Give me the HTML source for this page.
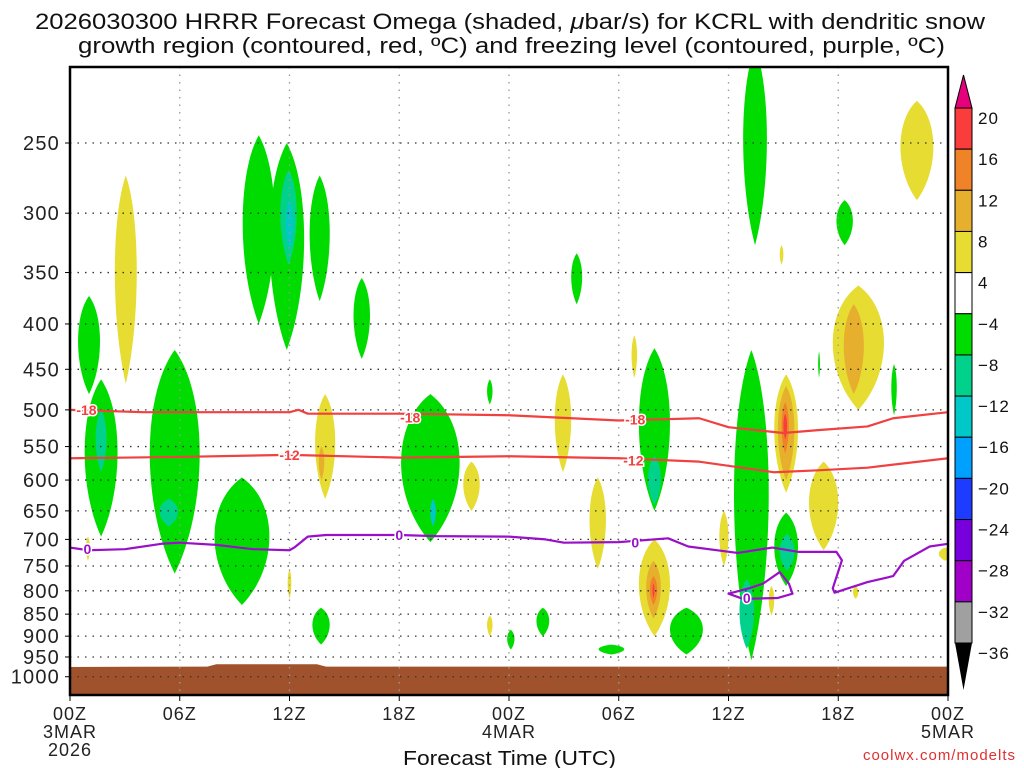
<!DOCTYPE html>
<html><head><meta charset="utf-8"><style>
body{margin:0;background:#fff;width:1024px;height:768px;overflow:hidden;font-family:"Liberation Sans","DejaVu Sans",sans-serif}
svg{display:block}
</style></head><body>
<svg id="chart" width="1024" height="768" viewBox="0 0 1024 768" xmlns="http://www.w3.org/2000/svg">
<text x="35" y="29" textLength="950" lengthAdjust="spacingAndGlyphs" font-size="22" fill="#111" font-family="Liberation Sans, DejaVu Sans, sans-serif">2026030300 HRRR Forecast Omega (shaded, <tspan font-style="italic">μ</tspan>bar/s) for KCRL with dendritic snow</text>
<text x="78" y="53" textLength="867" lengthAdjust="spacingAndGlyphs" font-size="22" fill="#111" font-family="Liberation Sans, DejaVu Sans, sans-serif">growth region (contoured, red, ºC) and freezing level (contoured, purple, ºC)</text>
<g id="plot"></g>
<g id="cbar"></g>
<text x="403" y="765" textLength="213" lengthAdjust="spacingAndGlyphs" font-size="20" fill="#111">Forecast Time (UTC)</text>
<text x="1016" y="760" text-anchor="end" font-size="15" fill="#e03030" letter-spacing="1">coolwx.com/modelts</text>
</svg>
<script>
// ---- data ----
const pressureTicks=[250,300,350,400,450,500,550,600,650,700,750,800,850,900,950,1000];
const timeTicks=[0,6,12,18,24,30,36,42,48];
const timeLabels=["00Z","06Z","12Z","18Z","00Z","06Z","12Z","18Z","00Z"];
const cbLabels=["20","16","12","8","4","−4","−8","−12","−16","−20","−24","−28","−32","−36"];
const cbColors=["#fa3c3c","#f08228","#e6af2d","#e6dc32","#ffffff","#00dc00","#00d28c","#00c8c8","#00a0ff","#1e3cff","#7800dc","#a000c8","#a0a0a0"];
// omega blobs: [hourStart, hourEnd, pTop, pBottom, level]
const blobs=[
[0.44,1.64,372,480,-1],[0.8,2.6,462,695,-1],[1.4,2.0,500,588,-2],
[4.36,7.09,428,765,-1],[4.9,5.9,630,677,-2],[7.9,10.9,596,830,-1],
[9.44,11.2,245,400,-1],[10.9,12.8,250,428,-1],[11.5,12.4,268,343,-2],[11.8,12.2,290,330,-3],
[13.1,14.2,272,377,-1],[15.5,16.4,355,438,-1],[13.25,14.2,836,920,-1],
[18.1,21.3,480,705,-1],[19.7,20.0,630,677,-3],[22.8,23.1,462,493,-1],[23.9,24.3,885,932,-1],
[25.5,26.2,836,900,-1],[27.4,28.0,333,380,-1],[28.9,30.3,920,944,-1],
[31.1,32.8,426,650,-1],[31.6,32.3,564,640,-2],[32.8,34.6,836,944,-1],
[36.3,38.2,428,958,-1],[36.6,37.4,776,930,-2],[36.8,38.1,195,326,-1],
[38.5,39.8,653,790,-1],[38.8,39.6,690,760,-2],[41.9,42.8,290,326,-1],[44.9,45.2,444,507,-1],[40.9,41.0,430,460,-1],
[2.45,3.65,272,467,1],[13.4,14.5,480,630,1],[13.6,13.9,550,600,2],[0.87,1.09,695,740,1],[11.9,12.1,756,817,1],
[21.5,22.4,572,650,1],[26.5,27.4,456,588,1],[28.4,29.3,596,756,1],[30.7,31.0,412,460,1],
[31.1,32.8,700,900,1],[31.5,32.3,740,860,2],[31.7,32.1,770,830,3],
[41.7,44.5,362,500,1],[42.3,43.4,380,480,2],
[38.5,39.8,456,620,1],[38.7,39.6,470,600,2],[38.9,39.3,490,560,3],[39.0,39.2,505,540,4],
[40.4,42.0,572,720,1],[35.5,36.0,650,750,1],[38.2,38.5,790,853,1],[45.4,47.2,224,290,1],
[22.8,23.1,853,900,1],[38.8,39.0,326,343,1],[47.5,48.2,715,740,1],[42.8,43.1,790,817,1],[31.85,31.95,785,815,4]
];
const levelColors={"1":"#e6dc32","2":"#e6af2d","3":"#f08228","4":"#fa3c3c","-1":"#00dc00","-2":"#00d28c","-3":"#00c8c8","-4":"#00a0ff"};
const dgzTimes18=[0,4,8,12,12.5,13,18,24,30,34.4,36,39,40.9,43.6,45,48];
const dgzP18=[500,503,503,503,500,505,505,507,514,511,523,531,527,522,511,503];
const dgzTimes12=[0,6,12,18,24,30,34.4,38.5,40.9,43.6,48];
const dgzP12=[567,565,562,566,564,567,572,588,585,581,567];
const frzTimes=[0,1,3,5,6,8,10,12,12.3,13,14,18,20,24,26,27,30,32.7,33.8,36.5,38.4,39.8,41.9,42.2,41.7,41.8,43.6,45,45.6,47,48];
const frzP=[715,720,718,708,706,710,718,720,714,695,692,692,694,695,700,706,705,698,713,725,715,723,723,739,795,804,782,770,740,713,708];
const loopTimes=[36.0,37.1,37.9,38.8,39.3,39.5,38.7,36.8,36.0];
const loopP=[806,795,785,762,785,806,815,817,806];
const groundTimes=[0,7.5,8,13.5,14,48];
const groundP=[975,974,968,968,974,974];
// ---- axes ----
const X0=70,X1=948,Y0=67,Y1=695;
const xs=h=>X0+h*(X1-X0)/48;
const ys=p=>143+385*Math.log(p/250);
const NS="http://www.w3.org/2000/svg";
function mk(tag,attrs,parent){const e=document.createElementNS(NS,tag);for(const k in attrs)e.setAttribute(k,attrs[k]);parent.appendChild(e);return e;}
const plot=document.getElementById('plot');
const cl=mk('clipPath',{id:'clip'},plot);mk('rect',{x:X0,y:Y0,width:X1-X0,height:Y1-Y0},cl);
const inner=mk('g',{'clip-path':'url(#clip)'},plot);
blobs.forEach((b,i)=>{
  const x1=xs(b[0]),x2=xs(b[1]),yT=ys(b[2]),yB=ys(b[3]);const cx=(x1+x2)/2,hw=(x2-x1)/2/0.75,H=yB-yT;
  const d=`M${cx},${yT} C${cx+hw},${yT+0.2*H} ${cx+hw},${yB-0.3*H} ${cx},${yB} C${cx-hw},${yB-0.3*H} ${cx-hw},${yT+0.2*H} ${cx},${yT}Z`;
  const e=mk('path',{d:d,fill:levelColors[b[4]]},inner);
  
  
});
// ground
let gd=`M${xs(0)},${Y1+2}`;groundTimes.forEach((t,i)=>gd+=` L${xs(t)},${ys(groundP[i])}`);gd+=` L${xs(48)+2},${Y1+2}Z`;
const g=mk('path',{d:gd,fill:'#a0522d'},inner);


// grid
pressureTicks.forEach(p=>{
  const gl=mk('line',{x1:X0,x2:X1,y1:ys(p),y2:ys(p),stroke:'#333','stroke-width':1.3,'stroke-dasharray':'1.5 6'},plot);
  
  
  mk('line',{x1:X0-5,x2:X0,y1:ys(p),y2:ys(p),stroke:'#000'},plot);
  const t=mk('text',{x:X0-10,y:ys(p)+7,'text-anchor':'end','font-size':20,'letter-spacing':1.2,fill:'#222'},plot);t.textContent=p;
  
  
});
timeTicks.forEach((h,i)=>{
  if(h>0&&h<48){const vl=mk('line',{x1:xs(h),x2:xs(h),y1:Y0,y2:Y1,stroke:'#999','stroke-width':1.3,'stroke-dasharray':'1.5 6'},plot);
  
  }
  mk('line',{x1:xs(h),x2:xs(h),y1:Y1,y2:Y1+6,stroke:'#000'},plot);
  const t=mk('text',{x:xs(h),y:720,'text-anchor':'middle','font-size':18,'letter-spacing':1,fill:'#222'},plot);t.textContent=timeLabels[i];
  
  
});
[[0,"3MAR",738],[0,"2026",756],[24,"4MAR",738],[48,"5MAR",738]].forEach(a=>{
  const t=mk('text',{x:xs(a[0]),y:a[2],'text-anchor':'middle','font-size':18,'letter-spacing':1,fill:'#222'},plot);t.textContent=a[1];
  
  
});
// contours
function line(ts,ps,col,name,close){
  let d='';ts.forEach((t,i)=>d+=(i?' L':'M')+xs(t)+','+ys(ps[i]));if(close)d+='Z';
  const e=mk('path',{d:d,fill:'none',stroke:col,'stroke-width':2.2,'stroke-linejoin':'round'},plot);
  
  
}
line(dgzTimes18,dgzP18,'#f04040','contour-minus18');
line(dgzTimes12,dgzP12,'#f04040','contour-minus12');
line(frzTimes,frzP,'#9a10c8','freezing-level-0');
line(loopTimes,loopP,'#9a10c8','freezing-level-loop',true);
[[0.9,500,'-18','#f04040'],[18.6,510,'-18','#f04040'],[30.9,513,'-18','#f04040'],[12,562,'-12','#f04040'],[30.8,570,'-12','#f04040'],
 [0.95,718,'0','#9a10c8'],[18,692,'0','#9a10c8'],[30.9,706,'0','#9a10c8'],[37,815,'0','#9a10c8']].forEach(a=>{
  const t=mk('text',{x:xs(a[0]),y:ys(a[1])+5,'text-anchor':'middle','font-size':14,'font-weight':'bold',fill:a[3],stroke:'#fff','stroke-width':3,'paint-order':'stroke'},plot);t.textContent=a[2];
  
  
});
mk('rect',{x:X0,y:Y0,width:X1-X0,height:Y1-Y0,fill:'none',stroke:'#000','stroke-width':2.5},plot);
// colorbar
const cb=document.getElementById('cbar');const CX=955,CW=17,CT=108,CH=(643-108)/cbColors.length;
mk('path',{d:`M${CX},${CT} L${CX+CW/2},75 L${CX+CW},${CT}Z`,fill:'#e6007a',stroke:'#000'},cb);
cbColors.forEach((c,i)=>{const r=mk('rect',{x:CX,y:CT+i*CH,width:CW,height:CH,fill:c,stroke:'#000','stroke-width':1},cb);
  
  });
const CB=CT+cbColors.length*CH;
mk('path',{d:`M${CX},${CB} L${CX+CW/2},690 L${CX+CW},${CB}Z`,fill:'#000'},cb);
cbLabels.forEach((l,i)=>{const t=mk('text',{x:978,y:CT+i*CH+16,'font-size':17,'letter-spacing':1,fill:'#111'},cb);t.textContent=l;
  
  });
</script>
</body></html>
